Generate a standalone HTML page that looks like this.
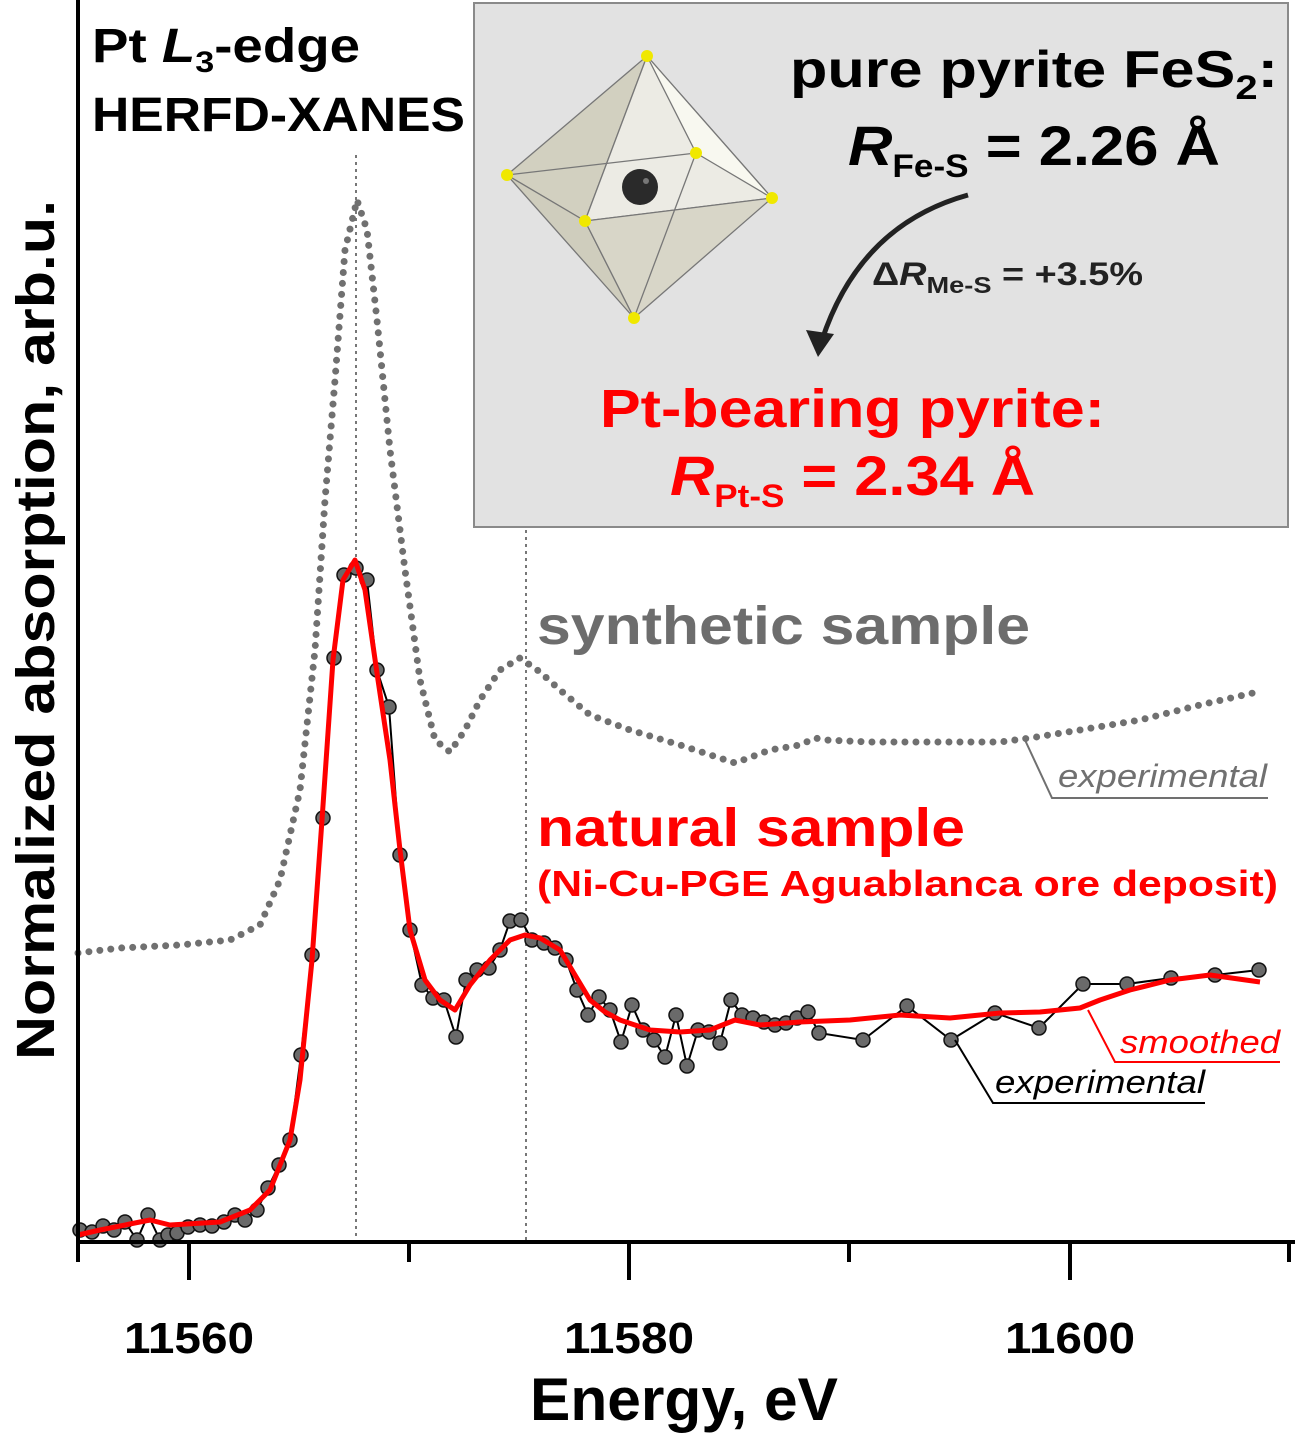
<!DOCTYPE html>
<html><head><meta charset="utf-8"><style>body{margin:0;background:#fff}svg{display:block}text{font-family:"Liberation Sans",sans-serif;font-weight:bold}</style></head><body>
<svg width="1295" height="1436" viewBox="0 0 1295 1436" xmlns="http://www.w3.org/2000/svg">
<rect x="474" y="3" width="814" height="524" fill="#e2e2e2" stroke="#8a8a8a" stroke-width="2"/>
<g stroke="#777" stroke-width="1.3" stroke-linejoin="round">
<polygon points="647,56 507,175 585,221" fill="#d2d0c0"/>
<polygon points="647,56 585,221 772,198" fill="#ecebe4"/>
<polygon points="647,56 772,198 696,153" fill="#f8f8f0"/>
<polygon points="507,175 585,221 634,318" fill="#cfcdbd"/>
<polygon points="585,221 772,198 634,318" fill="#d8d6c8"/>
<line x1="507" y1="175" x2="696" y2="153"/><line x1="696" y1="153" x2="634" y2="318"/>
</g>
<circle cx="640" cy="187" r="18" fill="#2a2a2a"/><circle cx="646" cy="181" r="3" fill="#777"/>
<g fill="#f0e800"><circle cx="647" cy="56" r="6"/><circle cx="507" cy="175" r="6"/><circle cx="585" cy="221" r="6"/><circle cx="772" cy="198" r="6"/><circle cx="696" cy="153" r="6"/><circle cx="634" cy="318" r="6"/></g>
<path d="M968,195 Q860,225 822,340" fill="none" stroke="#222" stroke-width="5"/>
<polygon points="806,330 818,357 834,334" fill="#222"/>
<text x="790" y="87" font-size="52" textLength="488" lengthAdjust="spacingAndGlyphs">pure pyrite FeS<tspan font-size="34" dy="12">2</tspan><tspan dy="-12">:</tspan></text>
<text x="848" y="165" font-size="56" textLength="372" lengthAdjust="spacingAndGlyphs"><tspan font-style="italic">R</tspan><tspan font-size="32" dy="12">Fe-S</tspan><tspan dy="-12"> = 2.26 Å</tspan></text>
<text x="872" y="285" font-size="32" fill="#222" textLength="271" lengthAdjust="spacingAndGlyphs">Δ<tspan font-style="italic">R</tspan><tspan font-size="23" dy="8">Me-S</tspan><tspan dy="-8"> = +3.5%</tspan></text>
<text x="600" y="427" font-size="54" fill="#ff0000" textLength="505" lengthAdjust="spacingAndGlyphs">Pt-bearing pyrite:</text>
<text x="670" y="495" font-size="56" fill="#ff0000" textLength="365" lengthAdjust="spacingAndGlyphs"><tspan font-style="italic">R</tspan><tspan font-size="32" dy="12">Pt-S</tspan><tspan dy="-12"> = 2.34 Å</tspan></text>
<text x="92" y="62" font-size="48" textLength="268" lengthAdjust="spacingAndGlyphs">Pt <tspan font-style="italic">L</tspan><tspan font-size="30" dy="10">3</tspan><tspan dy="-10">-edge</tspan></text>
<text x="92" y="131" font-size="48" textLength="373" lengthAdjust="spacingAndGlyphs">HERFD-XANES</text>
<line x1="356" y1="155" x2="356" y2="1240" stroke="#777" stroke-width="2" stroke-dasharray="3 4"/>
<line x1="526" y1="530" x2="526" y2="1240" stroke="#777" stroke-width="2" stroke-dasharray="3 4"/>
<path d="M78,953 L120,948 L180,945 L230,940 L260,925 L280,880 L300,790 L315,650 L325,500 L335,380 L345,250 L357,200 L367,230 L377,320 L390,450 L405,570 L420,680 L435,740 L450,752 L465,730 L480,700 L500,670 L520,658 L540,672 L560,690 L590,715 L630,730 L680,745 L735,763 L770,750 L800,745 L815,738 L825,740 L870,742 L950,742 L1000,742 L1030,738 L1080,730 L1140,720 L1200,705 L1253,693" fill="none" stroke="#707070" stroke-width="7" stroke-linecap="round" stroke-dasharray="0 11"/>
<polyline fill="none" stroke="#000" stroke-width="2" points="80,1230 92,1232 103,1226 114,1230 125,1222 137,1240 148,1215 160,1240 168,1235 177,1233 188,1227 200,1225 212,1226 224,1222 235,1215 245,1220 257,1210 268,1188 279,1165 290,1140 301,1055 312,955 323,818 334,658 344,575 356,568 367,580 377,670 389,707 400,855 410,930 422,985 433,998 444,1000 456,1037 466,980 477,970 489,968 500,950 510,921 521,920 532,940 544,943 555,948 566,960 577,990 588,1015 599,997 610,1010 621,1042 632,1005 643,1030 654,1040 665,1057 676,1015 687,1066 698,1030 709,1032 720,1043 731,1000 742,1015 753,1018 764,1022 775,1025 786,1023 797,1018 808,1012 819,1033 863,1040 907,1006 951,1040 995,1013 1039,1028 1083,984 1127,984 1171,978 1215,975 1259,970"/>
<g fill="#6a6a6a" stroke="#111" stroke-width="1.5">
<circle cx="80" cy="1230" r="7"/><circle cx="92" cy="1232" r="7"/><circle cx="103" cy="1226" r="7"/><circle cx="114" cy="1230" r="7"/><circle cx="125" cy="1222" r="7"/><circle cx="137" cy="1240" r="7"/><circle cx="148" cy="1215" r="7"/><circle cx="160" cy="1240" r="7"/><circle cx="168" cy="1235" r="7"/><circle cx="177" cy="1233" r="7"/><circle cx="188" cy="1227" r="7"/><circle cx="200" cy="1225" r="7"/><circle cx="212" cy="1226" r="7"/><circle cx="224" cy="1222" r="7"/><circle cx="235" cy="1215" r="7"/><circle cx="245" cy="1220" r="7"/><circle cx="257" cy="1210" r="7"/><circle cx="268" cy="1188" r="7"/><circle cx="279" cy="1165" r="7"/><circle cx="290" cy="1140" r="7"/><circle cx="301" cy="1055" r="7"/><circle cx="312" cy="955" r="7"/><circle cx="323" cy="818" r="7"/><circle cx="334" cy="658" r="7"/><circle cx="344" cy="575" r="7"/><circle cx="356" cy="568" r="7"/><circle cx="367" cy="580" r="7"/><circle cx="377" cy="670" r="7"/><circle cx="389" cy="707" r="7"/><circle cx="400" cy="855" r="7"/><circle cx="410" cy="930" r="7"/><circle cx="422" cy="985" r="7"/><circle cx="433" cy="998" r="7"/><circle cx="444" cy="1000" r="7"/><circle cx="456" cy="1037" r="7"/><circle cx="466" cy="980" r="7"/><circle cx="477" cy="970" r="7"/><circle cx="489" cy="968" r="7"/><circle cx="500" cy="950" r="7"/><circle cx="510" cy="921" r="7"/><circle cx="521" cy="920" r="7"/><circle cx="532" cy="940" r="7"/><circle cx="544" cy="943" r="7"/><circle cx="555" cy="948" r="7"/><circle cx="566" cy="960" r="7"/><circle cx="577" cy="990" r="7"/><circle cx="588" cy="1015" r="7"/><circle cx="599" cy="997" r="7"/><circle cx="610" cy="1010" r="7"/><circle cx="621" cy="1042" r="7"/><circle cx="632" cy="1005" r="7"/><circle cx="643" cy="1030" r="7"/><circle cx="654" cy="1040" r="7"/><circle cx="665" cy="1057" r="7"/><circle cx="676" cy="1015" r="7"/><circle cx="687" cy="1066" r="7"/><circle cx="698" cy="1030" r="7"/><circle cx="709" cy="1032" r="7"/><circle cx="720" cy="1043" r="7"/><circle cx="731" cy="1000" r="7"/><circle cx="742" cy="1015" r="7"/><circle cx="753" cy="1018" r="7"/><circle cx="764" cy="1022" r="7"/><circle cx="775" cy="1025" r="7"/><circle cx="786" cy="1023" r="7"/><circle cx="797" cy="1018" r="7"/><circle cx="808" cy="1012" r="7"/><circle cx="819" cy="1033" r="7"/><circle cx="863" cy="1040" r="7"/><circle cx="907" cy="1006" r="7"/><circle cx="951" cy="1040" r="7"/><circle cx="995" cy="1013" r="7"/><circle cx="1039" cy="1028" r="7"/><circle cx="1083" cy="984" r="7"/><circle cx="1127" cy="984" r="7"/><circle cx="1171" cy="978" r="7"/><circle cx="1215" cy="975" r="7"/><circle cx="1259" cy="970" r="7"/>
</g>
<polyline fill="none" stroke="#ff0000" stroke-width="5" stroke-linejoin="round" points="78,1235 100,1230 150,1220 170,1225 220,1222 250,1210 270,1190 290,1140 300,1080 312,960 322,820 333,660 343,580 355,560 365,590 378,680 390,760 400,850 410,930 425,980 440,1000 455,1010 470,985 490,960 510,940 525,935 540,938 560,950 575,975 590,1000 605,1012 620,1020 650,1030 680,1032 710,1030 735,1020 760,1025 800,1022 850,1020 900,1015 950,1018 1000,1013 1040,1012 1080,1008 1100,1000 1130,990 1170,980 1210,975 1260,982"/>
<text x="537" y="644" font-size="54" fill="#6d6d6d" textLength="493" lengthAdjust="spacingAndGlyphs">synthetic sample</text>
<text x="537" y="846" font-size="54" fill="#ff0000" textLength="428" lengthAdjust="spacingAndGlyphs">natural sample</text>
<text x="537" y="896" font-size="36" fill="#ff0000" textLength="741" lengthAdjust="spacingAndGlyphs">(Ni-Cu-PGE Aguablanca ore deposit)</text>
<polyline points="1025,740 1052,798 1268,798" fill="none" stroke="#707070" stroke-width="2"/>
<text x="1058" y="787" font-size="32" font-style="italic" fill="#707070" style="font-weight:normal" textLength="209" lengthAdjust="spacingAndGlyphs">experimental</text>
<polyline points="1088,1010 1115,1062 1280,1062" fill="none" stroke="#ff0000" stroke-width="2"/>
<text x="1120" y="1053" font-size="32" font-style="italic" fill="#ff0000" style="font-weight:normal" textLength="160" lengthAdjust="spacingAndGlyphs">smoothed</text>
<polyline points="955,1040 993,1103 1205,1103" fill="none" stroke="#000" stroke-width="2"/>
<text x="995" y="1093" font-size="32" font-style="italic" fill="#000" style="font-weight:normal" textLength="210" lengthAdjust="spacingAndGlyphs">experimental</text>
<g stroke="#000" stroke-width="4">
<line x1="78" y1="0" x2="78" y2="1262"/><line x1="76" y1="1242" x2="1295" y2="1242"/>
<line x1="189" y1="1242" x2="189" y2="1280"/><line x1="629" y1="1242" x2="629" y2="1280"/><line x1="1070" y1="1242" x2="1070" y2="1280"/>
<line x1="409" y1="1242" x2="409" y2="1262"/><line x1="849" y1="1242" x2="849" y2="1262"/><line x1="1289" y1="1242" x2="1289" y2="1262"/>
</g>
<text x="124" y="1353" font-size="44" textLength="130" lengthAdjust="spacingAndGlyphs">11560</text>
<text x="564" y="1353" font-size="44" textLength="130" lengthAdjust="spacingAndGlyphs">11580</text>
<text x="1005" y="1353" font-size="44" textLength="130" lengthAdjust="spacingAndGlyphs">11600</text>
<text x="530" y="1420" font-size="60" textLength="308" lengthAdjust="spacingAndGlyphs">Energy, eV</text>
<text transform="translate(54,1060) rotate(-90)" font-size="54" textLength="860" lengthAdjust="spacingAndGlyphs">Normalized absorption, arb.u.</text>
</svg>
</body></html>
